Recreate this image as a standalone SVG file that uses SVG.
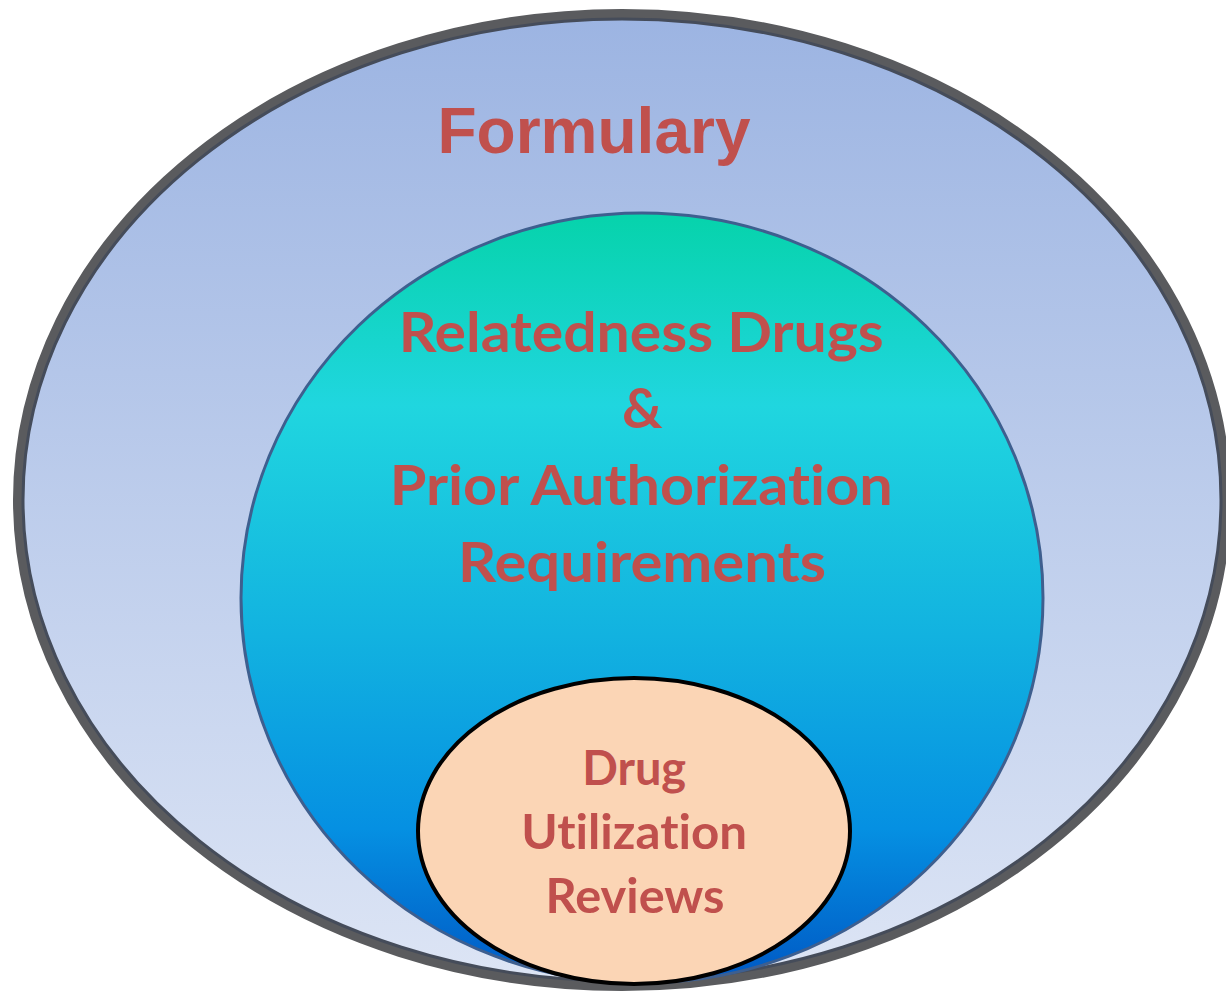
<svg xmlns="http://www.w3.org/2000/svg" width="1226" height="991" viewBox="0 0 1226 991">
<defs>
<linearGradient id="gOuter" x1="0" y1="0" x2="0" y2="1">
<stop offset="0" stop-color="#9CB4E2"/>
<stop offset="1" stop-color="#DDE5F5"/>
</linearGradient>
<linearGradient id="gMid" x1="0" y1="0" x2="0" y2="1">
<stop offset="0" stop-color="#06D3AB"/>
<stop offset="0.25" stop-color="#20D6DF"/>
<stop offset="0.55" stop-color="#12B2E0"/>
<stop offset="0.8" stop-color="#0590E2"/>
<stop offset="1" stop-color="#0058C4"/>
</linearGradient>
<style>
.t1{font-family:"Liberation Sans",Arial,sans-serif;font-weight:bold;fill:#C0504D;text-anchor:middle}
.t2{font-family:Lato,"Open Sans",sans-serif;font-weight:bold;fill:#C0504D;text-anchor:middle;font-variant-ligatures:none}
</style>
</defs>
<g id="formulary">
<ellipse cx="622" cy="500" rx="604" ry="486" fill="url(#gOuter)" stroke="#5A5B5E" stroke-width="10"/>
<ellipse cx="622" cy="500" rx="599" ry="481" fill="none" stroke="#454C5A" stroke-width="3"/>
<text class="t1" x="594" y="153" font-size="64">Formulary</text>
</g>
<g id="prior-authorization">
<ellipse cx="642" cy="598" rx="401" ry="385" fill="url(#gMid)" stroke="#3E5F8F" stroke-width="3"/>
<text class="t2" font-size="56">
<tspan x="648" y="352" textLength="485" lengthAdjust="spacingAndGlyphs">Relatedness Drugs</tspan>
<tspan x="649" y="428">&amp;</tspan>
<tspan x="648" y="505" textLength="503" lengthAdjust="spacingAndGlyphs">Prior Authorization</tspan>
<tspan x="642" y="582" textLength="368" lengthAdjust="spacingAndGlyphs">Requirements</tspan>
</text>
</g>
<g id="drug-utilization">
<ellipse cx="634" cy="831" rx="216" ry="153" fill="#FBD5B5" stroke="#000" stroke-width="4"/>
<text class="t2" font-size="48">
<tspan x="640" y="785" textLength="104" lengthAdjust="spacingAndGlyphs">Drug</tspan>
<tspan x="640" y="849" textLength="226" lengthAdjust="spacingAndGlyphs">Utilization</tspan>
<tspan x="635" y="913" textLength="179" lengthAdjust="spacingAndGlyphs">Reviews</tspan>
</text>
</g>
<g id="connectors"/>
</svg>
